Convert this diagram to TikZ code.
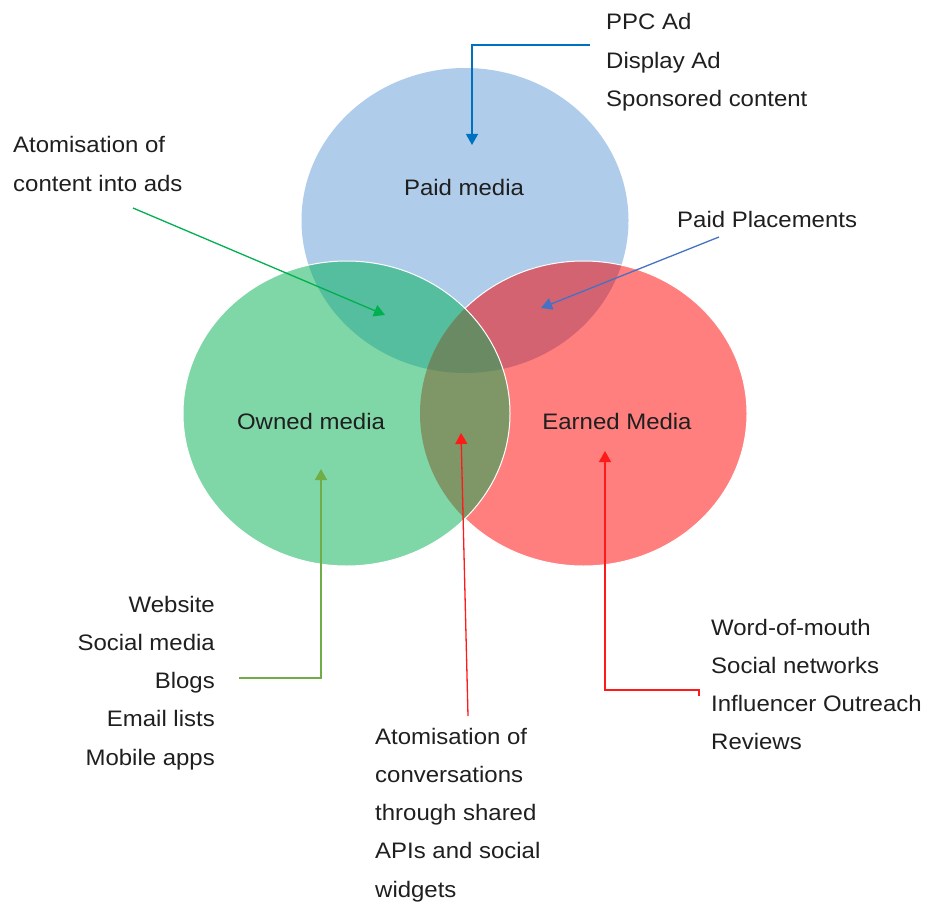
\documentclass[tikz,border=0pt]{standalone}
\usepackage{fontspec}
\setmainfont{Liberation Sans}[FakeStretch=1.07]
\usetikzlibrary{arrows.meta}

% circle fills and their overlaps
\definecolor{paidC}{HTML}{AFCDEA}
\definecolor{ownC}{HTML}{7FD7A7}
\definecolor{earnC}{HTML}{FF7F7F}
\definecolor{paidOwnC}{HTML}{55BE9E}
\definecolor{paidEarnC}{HTML}{D36370}
\definecolor{ownEarnC}{HTML}{7F9766}
\definecolor{allC}{HTML}{6A8A63}
% connector colours
\definecolor{arBlue}{HTML}{0070C0}
\definecolor{arSteel}{HTML}{4472C4}
\definecolor{arGreen}{HTML}{00B050}
\definecolor{arOlive}{HTML}{70AD47}
\definecolor{arRed}{HTML}{FF1A1A}

\begin{document}
\begin{tikzpicture}[x=1pt,y=-1pt,
  lbl/.style={inner sep=0pt, font=\fontsize{22.4}{28}\selectfont, text=black!88},
  conn/.style={line width=1.3pt, -{Triangle[length=11pt,width=12pt]}},
  rim/.style={white, line width=1pt},
]
\useasboundingbox (0,0) rectangle (925,901);

% --- the three circles ---
\fill[paidC] (465,220.5) ellipse [x radius=163.5pt, y radius=152.5pt];
\fill[earnC] (583.5,413.5) ellipse [x radius=163.5pt, y radius=152.5pt];
\fill[ownC]  (346.5,413.5) ellipse [x radius=163.5pt, y radius=152.5pt];

% paid overlaps
\begin{scope}
  \clip (465,220.5) ellipse [x radius=163.5pt, y radius=152.5pt];
  \fill[paidEarnC] (583.5,413.5) ellipse [x radius=163.5pt, y radius=152.5pt];
  \fill[paidOwnC]  (346.5,413.5) ellipse [x radius=163.5pt, y radius=152.5pt];
\end{scope}
% owned/earned overlap and the centre
\begin{scope}
  \clip (346.5,413.5) ellipse [x radius=163.5pt, y radius=152.5pt];
  \fill[ownEarnC] (583.5,413.5) ellipse [x radius=163.5pt, y radius=152.5pt];
  \clip (465,220.5) ellipse [x radius=163.5pt, y radius=152.5pt];
  \fill[allC] (583.5,413.5) ellipse [x radius=163.5pt, y radius=152.5pt];
\end{scope}

% thin white rims
\begin{scope}[even odd rule]
  \clip (0,0) rectangle (925,901)
    (346.5,413.5) ellipse [x radius=163.5pt, y radius=152.5pt];
  \draw[rim] (583.5,413.5) ellipse [x radius=163.5pt, y radius=152.5pt];
\end{scope}
\draw[rim] (346.5,413.5) ellipse [x radius=163.5pt, y radius=152.5pt];

% --- circle titles ---
\node[lbl, anchor=base] (paid)   at (464,196) {Paid media};
\node[lbl, anchor=base] (owned)  at (311,429) {Owned media};
\node[lbl, anchor=base] (earned) at (617,429) {Earned Media};

% --- lists ---
\foreach \t [count=\i] in {PPC Ad, Display Ad, Sponsored content}
  \node[lbl, anchor=base west] (paidItem\i) at (606,{30+38.3*(\i-1)}) {\t};
\node[lbl, anchor=base west] (adsA) at (13,153) {Atomisation of};
\node[lbl, anchor=base west] (adsB) at (13,192) {content into ads};
\node[lbl, anchor=base west] (placements) at (677,227) {Paid Placements};
\foreach \t [count=\i] in {Website, Social media, Blogs, Email lists, Mobile apps}
  \node[lbl, anchor=base east] (ownItem\i) at (215,{612+38.3*(\i-1)}) {\t};
\foreach \t [count=\i] in {Word-of-mouth, Social networks, Influencer Outreach, Reviews}
  \node[lbl, anchor=base west] (earnItem\i) at (711,{635+38.3*(\i-1)}) {\t};
\foreach \t [count=\i] in {Atomisation of, conversations, through shared, APIs and social, widgets}
  \node[lbl, anchor=base west] (convItem\i) at (375,{744+38.3*(\i-1)}) {\t};

% --- connector points ---
\coordinate (paidFrom)  at (590,45);
\coordinate (paidBend)  at (472,45);
\coordinate (paidTip)   at (472,145);
\coordinate (plcFrom)   at (719,237);
\coordinate (plcTip)    at (541,308);
\coordinate (adsFrom)   at (133,208);
\coordinate (adsTip)    at (385,315);
\coordinate (ownFrom)   at (239,678);
\coordinate (ownBend)   at (321,678);
\coordinate (ownTip)    at (321,469);
\coordinate (convFrom)  at (468,716);
\coordinate (convTip)   at (461,433);
\coordinate (earnFrom)  at (699,696);
\coordinate (earnBendA) at (699,690);
\coordinate (earnBendB) at (605,690);
\coordinate (earnTip)   at (605,451);

% --- connectors ---
\draw[conn, arBlue]  (paidFrom) -- (paidBend) -- (paidTip);
\draw[conn, arSteel] (plcFrom) -- (plcTip);
\draw[conn, arGreen] (adsFrom) -- (adsTip);
\draw[conn, arOlive, line width=1.6pt] (ownFrom) -- (ownBend) -- (ownTip);
\draw[conn, arRed]   (convFrom) -- (convTip);
\draw[conn, arRed]   (earnFrom) -- (earnBendA) -- (earnBendB) -- (earnTip);
\end{tikzpicture}
\end{document}
